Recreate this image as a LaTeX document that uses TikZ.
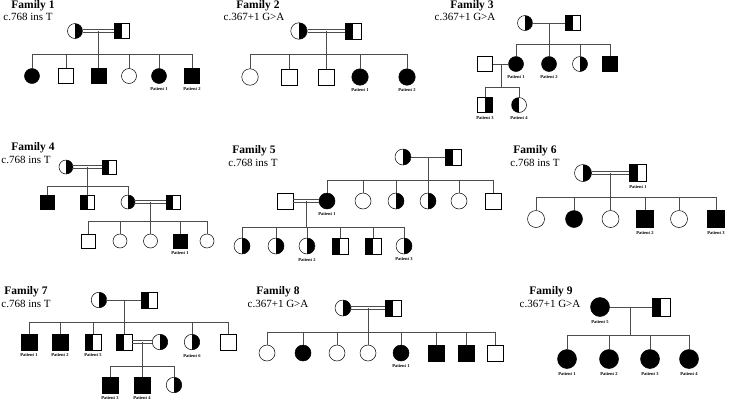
\documentclass[tikz,border=0pt]{standalone}
\usepackage{fontspec}
\setmainfont{Liberation Serif}
\usetikzlibrary{positioning}

\tikzset{
  psize/.store in=\psz, psize=15pt,
  fem/.style={circle,draw,inner sep=0pt,minimum size=\psz,line width=0.5pt},
  mal/.style={rectangle,draw,inner sep=0pt,minimum size=\psz,line width=0.5pt},
  aff/.style={fill=black},
  hr/.style={path picture={\fill (path picture bounding box.north) rectangle (path picture bounding box.south east);}},
  hl/.style={path picture={\fill (path picture bounding box.south west) rectangle (path picture bounding box.north);}},
  ln/.style={draw=black!70,line width=0.6pt},
  fam/.style={font=\fontsize{11.5}{12}\selectfont\bfseries},
  mut/.style={font=\fontsize{11}{12}\selectfont},
  pat/.style={font=\fontsize{4.5}{5}\selectfont\bfseries,inner sep=0pt},
}
% consanguineous mating: two parallel lines
\newcommand{\consline}[2]{%
  \foreach \d in {1.4,-1.4}
    \draw[ln,line width=0.5pt] ([yshift=\d pt]#1.east) -- ([yshift=\d pt]#2.west);}

\begin{document}
\begin{tikzpicture}[x=1pt,y=-1pt]
\useasboundingbox (0,0) rectangle (730,405);

% Family 1
\node[fam] (t1) at (33,6) {Family 1};
\node[mut] (g1) at (28,17) {c.768 ins T};
\node[fem,hr] (m1) at (75,31) {};
\node[mal,hl] (p1) at (122,31) {};
\consline{m1}{p1}
\coordinate (s1) at (98.5,54);
\draw[ln] (s1 |- m1) -- (s1);
\node[fem,aff] (c1a) at (32,76) {};
\node[mal] (c1b) at (66,76) {};
\node[mal,aff] (c1c) at (98.5,76) {};
\node[fem] (c1d) at (129,76) {};
\node[fem,aff] (c1e) at (159,76) {};
\node[mal,aff] (c1f) at (192,76) {};
\node[pat,below=3pt of c1e] (l1e) {Patient 1};
\node[pat,below=3pt of c1f] (l1f) {Patient 2};
\draw[ln] (c1a |- s1) -- (c1f |- s1);
\foreach \c in {c1a,c1b,c1c,c1d,c1e,c1f} \draw[ln] (\c) -- (\c |- s1);

% Family 2
\begin{scope}[psize=16.5pt]
\node[fam] (t2) at (258,6) {Family 2};
\node[mut] (g2) at (254,17) {c.367+1 G>A};
\node[fem,hr] (m2) at (299,31) {};
\node[mal,hl] (p2) at (353,31) {};
\consline{m2}{p2}
\coordinate (s2) at (326,54);
\draw[ln] (s2 |- m2) -- (s2);
\node[fem] (c2a) at (250,77) {};
\node[mal] (c2b) at (289,77) {};
\node[mal] (c2c) at (326,77) {};
\node[fem,aff] (c2d) at (360,77) {};
\node[fem,aff] (c2e) at (407,77) {};
\node[pat,below=3pt of c2d] (l2d) {Patient 1};
\node[pat,below=3pt of c2e] (l2e) {Patient 2};
\draw[ln] (c2a |- s2) -- (c2e |- s2);
\foreach \c in {c2a,c2b,c2c,c2d,c2e} \draw[ln] (\c) -- (\c |- s2);
\end{scope}

% Family 3
\node[fam] (t3) at (472,6) {Family 3};
\node[mut] (g3) at (465,17) {c.367+1 G>A};
\node[fem,hr] (m3) at (525,23) {};
\node[mal,hl] (p3) at (573,23) {};
\draw[ln] (m3) -- (p3);
\coordinate (s3) at (549,44);
\draw[ln] (s3 |- m3) -- (s3);
\node[fem,aff] (c3a) at (516,64) {};
\node[fem,aff] (c3b) at (549,64) {};
\node[fem,hr] (c3c) at (580,64) {};
\node[mal,aff] (c3d) at (610,64) {};
\node[pat,below=3pt of c3a] (l3a) {Patient 1};
\node[pat,below=3pt of c3b] (l3b) {Patient 2};
\draw[ln] (c3a |- s3) -- (c3d |- s3);
\foreach \c in {c3a,c3b,c3c,c3d} \draw[ln] (\c) -- (\c |- s3);
\node[mal] (h3) at (485,64) {};
\draw[ln] (h3) -- (c3a);
\coordinate (s3b) at (501,87);
\draw[ln] (s3b |- h3) -- (s3b);
\node[mal,hr] (c3e) at (485,105) {};
\node[fem,hl] (c3f) at (519,105) {};
\node[pat,below=3pt of c3e] (l3e) {Patient 3};
\node[pat,below=3pt of c3f] (l3f) {Patient 4};
\draw[ln] (c3e |- s3b) -- (c3f |- s3b);
\foreach \c in {c3e,c3f} \draw[ln] (\c) -- (\c |- s3b);

% Family 4
\begin{scope}[psize=14pt]
\node[fam] (t4) at (33,148) {Family 4};
\node[mut] (g4) at (26,160) {c.768 ins T};
\node[fem,hr] (m4) at (66,167) {};
\node[mal,hl] (p4) at (109,167) {};
\consline{m4}{p4}
\coordinate (s4) at (87.5,186);
\draw[ln] (s4 |- m4) -- (s4);
\node[mal,aff] (c4a) at (47,202) {};
\node[mal,hl] (c4b) at (87.5,202) {};
\node[fem,hr] (c4c) at (128,202) {};
\draw[ln] (c4a |- s4) -- (c4c |- s4);
\foreach \c in {c4a,c4b,c4c} \draw[ln] (\c) -- (\c |- s4);
\node[mal,hl] (h4) at (173,202) {};
\consline{c4c}{h4}
\coordinate (s4b) at (150.5,221);
\draw[ln] (s4b |- h4) -- (s4b);
\node[mal] (c4d) at (88,241) {};
\node[fem] (c4e) at (120,241) {};
\node[fem] (c4f) at (150.5,241) {};
\node[mal,aff] (c4g) at (180,241) {};
\node[fem] (c4h) at (207,241) {};
\node[pat,below=3pt of c4g] (l4g) {Patient 1};
\draw[ln] (c4d |- s4b) -- (c4h |- s4b);
\foreach \c in {c4d,c4e,c4f,c4g,c4h} \draw[ln] (\c) -- (\c |- s4b);
\end{scope}

% Family 5
\begin{scope}[psize=16pt]
\node[fam] (t5) at (254,151) {Family 5};
\node[mut] (g5) at (253,163) {c.768 ins T};
\node[fem,hr] (m5) at (403,157) {};
\node[mal,hl] (p5) at (453,157) {};
\draw[ln] (m5) -- (p5);
\coordinate (s5) at (428,180);
\draw[ln] (s5 |- m5) -- (s5);
\node[fem,aff] (c5a) at (327,201) {};
\node[fem] (c5b) at (363,201) {};
\node[fem,hr] (c5c) at (396,201) {};
\node[fem,hr] (c5d) at (428,201) {};
\node[fem] (c5e) at (459,201) {};
\node[mal] (c5f) at (493,201) {};
\node[pat,below=3pt of c5a] (l5a) {Patient 1};
\draw[ln] (c5a |- s5) -- (c5f |- s5);
\foreach \c in {c5a,c5b,c5c,c5d,c5e,c5f} \draw[ln] (\c) -- (\c |- s5);
\node[mal] (h5) at (285,201) {};
\consline{h5}{c5a}
\coordinate (s5b) at (306,227);
\draw[ln] (s5b |- h5) -- (s5b);
\node[fem,hr] (c5g) at (242,246) {};
\node[fem,hr] (c5h) at (276,246) {};
\node[fem,hr] (c5i) at (307,246) {};
\node[mal,hl] (c5j) at (340,246) {};
\node[mal,hl] (c5k) at (373,246) {};
\node[fem,hr] (c5l) at (404,246) {};
\node[pat,below=4pt of c5i] (l5i) {Patient 2};
\node[pat,below=3pt of c5l] (l5l) {Patient 3};
\draw[ln] (c5g |- s5b) -- (c5l |- s5b);
\foreach \c in {c5g,c5h,c5i,c5j,c5k,c5l} \draw[ln] (\c) -- (\c |- s5b);
\end{scope}

% Family 6
\begin{scope}[psize=17pt]
\node[fam] (t6) at (535,151) {Family 6};
\node[mut] (g6) at (535,163) {c.768 ins T};
\node[fem,hr] (m6) at (583,173) {};
\node[mal,hl] (p6) at (638,173) {};
\node[pat,below=3pt of p6] (l6p) {Patient 1};
\consline{m6}{p6}
\coordinate (s6) at (610.5,197);
\draw[ln] (s6 |- m6) -- (s6);
\node[fem] (c6a) at (536,219) {};
\node[fem,aff] (c6b) at (574,219) {};
\node[fem] (c6c) at (610.5,219) {};
\node[mal,aff] (c6d) at (645,219) {};
\node[fem] (c6e) at (679,219) {};
\node[mal,aff] (c6f) at (716,219) {};
\node[pat,below=3pt of c6d] (l6d) {Patient 2};
\node[pat,below=3pt of c6f] (l6f) {Patient 3};
\draw[ln] (c6a |- s6) -- (c6f |- s6);
\foreach \c in {c6a,c6b,c6c,c6d,c6e,c6f} \draw[ln] (\c) -- (\c |- s6);
\end{scope}

% Family 7
\begin{scope}[psize=15.5pt]
\node[fam] (t7) at (26,292) {Family 7};
\node[mut] (g7) at (26,304) {c.768 ins T};
\node[fem,hr] (m7) at (99,300) {};
\node[mal,hl] (p7) at (149,300) {};
\draw[ln] (m7) -- (p7);
\coordinate (s7) at (124,322);
\draw[ln] (s7 |- m7) -- (s7);
\node[mal,aff] (c7a) at (29,342) {};
\node[mal,aff] (c7b) at (60,342) {};
\node[mal,hl] (c7c) at (93,342) {};
\node[mal,hl] (c7d) at (124,342) {};
\node[fem,hr] (c7f) at (192,342) {};
\node[mal] (c7g) at (228,342) {};
\node[pat,below=3pt of c7a] (l7a) {Patient 1};
\node[pat,below=3pt of c7b] (l7b) {Patient 2};
\node[pat,below=3pt of c7c] (l7c) {Patient 5};
\node[pat,below=4pt of c7f] (l7f) {Patient 6};
\draw[ln] (c7a |- s7) -- (c7g |- s7);
\foreach \c in {c7a,c7b,c7c,c7d,c7f,c7g} \draw[ln] (\c) -- (\c |- s7);
\node[fem,hr] (h7) at (160,342) {};
\consline{c7d}{h7}
\coordinate (s7b) at (142,366);
\draw[ln] (s7b |- h7) -- (s7b);
\node[mal,aff] (c7h) at (110,385) {};
\node[mal,aff] (c7i) at (142,385) {};
\node[fem,hr] (c7j) at (174,385) {};
\node[pat,below=3pt of c7h] (l7h) {Patient 3};
\node[pat,below=3pt of c7i] (l7i) {Patient 4};
\draw[ln] (c7h |- s7b) -- (c7j |- s7b);
\foreach \c in {c7h,c7i,c7j} \draw[ln] (\c) -- (\c |- s7b);
\end{scope}

% Family 8
\begin{scope}[psize=16pt]
\node[fam] (t8) at (278,292) {Family 8};
\node[mut] (g8) at (278,304) {c.367+1 G>A};
\node[fem,hr] (m8) at (343,308) {};
\node[mal,hl] (p8) at (393,308) {};
\consline{m8}{p8}
\coordinate (s8) at (368,332);
\draw[ln] (s8 |- m8) -- (s8);
\node[fem] (c8a) at (267,353) {};
\node[fem,aff] (c8b) at (303,353) {};
\node[fem] (c8c) at (337,353) {};
\node[fem] (c8d) at (368,353) {};
\node[fem,aff] (c8e) at (401,353) {};
\node[mal,aff] (c8f) at (436,353) {};
\node[mal,aff] (c8g) at (466,353) {};
\node[mal] (c8h) at (495,353) {};
\node[pat,below=3pt of c8e] (l8e) {Patient 1};
\draw[ln] (c8a |- s8) -- (c8h |- s8);
\foreach \c in {c8a,c8b,c8c,c8d,c8e,c8f,c8g,c8h} \draw[ln] (\c) -- (\c |- s8);
\end{scope}

% Family 9
\begin{scope}[psize=19pt]
\node[fam] (t9) at (551,292) {Family 9};
\node[mut] (g9) at (550,304) {c.367+1 G>A};
\node[fem,aff] (m9) at (600,307) {};
\node[pat,below=3pt of m9] (l9m) {Patient 5};
\node[mal,hl,minimum size=18pt] (p9) at (661,307) {};
\draw[ln] (m9) -- (p9);
\coordinate (s9) at (630.5,335);
\draw[ln] (s9 |- m9) -- (s9);
\node[fem,aff] (c9a) at (567,359) {};
\node[fem,aff] (c9b) at (609,359) {};
\node[fem,aff] (c9c) at (650,359) {};
\node[fem,aff] (c9d) at (689,359) {};
\node[pat,below=3pt of c9a] (l9a) {Patient 1};
\node[pat,below=3pt of c9b] (l9b) {Patient 2};
\node[pat,below=3pt of c9c] (l9c) {Patient 3};
\node[pat,below=3pt of c9d] (l9d) {Patient 4};
\draw[ln] (c9a |- s9) -- (c9d |- s9);
\foreach \c in {c9a,c9b,c9c,c9d} \draw[ln] (\c) -- (\c |- s9);
\end{scope}
\end{tikzpicture}
\end{document}
